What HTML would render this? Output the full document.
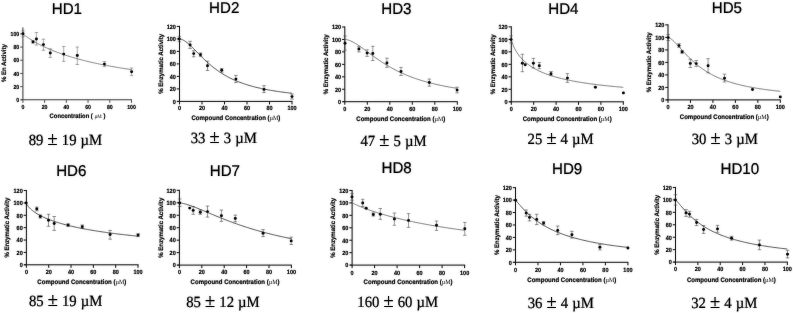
<!DOCTYPE html>
<html lang="en"><head><meta charset="utf-8"><title>HD1-HD10 dose response</title>
<style>
html,body{margin:0;padding:0;background:#fff;}
body{width:793px;height:313px;overflow:hidden;}
svg{display:block;}
.t{font-family:"Liberation Sans",Arial,sans-serif;fill:#0a0a0a;stroke:#0a0a0a;stroke-width:0.2;}
.b{font-family:"Liberation Sans",Arial,sans-serif;font-weight:bold;fill:#111;stroke:#111;stroke-width:0.16;}
.s{font-family:"Liberation Serif","Times New Roman",serif;fill:#0a0a0a;stroke:#0a0a0a;stroke-width:0.22;}
.u{font-family:"Liberation Serif","Times New Roman",serif;fill:#1a1a1a;stroke:none;font-weight:normal;}
</style></head><body>
<svg width="793" height="313" viewBox="0 0 793 313" text-rendering="geometricPrecision">
<rect width="793" height="313" fill="#fff"/>
<defs><filter id="bl" x="-2%" y="-2%" width="104%" height="104%" color-interpolation-filters="sRGB"><feGaussianBlur in="SourceGraphic" stdDeviation="0.8" result="b"/><feComponentTransfer in="b" result="b2"><feFuncA type="linear" slope="0.3"/></feComponentTransfer><feComponentTransfer in="SourceGraphic" result="s2"><feFuncA type="linear" slope="1"/></feComponentTransfer><feMerge><feMergeNode in="b2"/><feMergeNode in="s2"/></feMerge></filter></defs>
<g filter="url(#bl)">
<g>
<text class="t" transform="translate(66.85 13.8) scale(0.97 1)" font-size="15.6" text-anchor="middle">HD1</text>
<path d="M22.9 27.5V100.3M21.1 99.8H132" stroke="#505050" stroke-width="1.05" fill="none"/>
<path d="M20.2 99.8H22.9M20.2 86.62H22.9M20.2 73.44H22.9M20.2 60.26H22.9M20.2 47.08H22.9M20.2 33.9H22.9M22.9 99.8V102.8M44.62 99.8V102.8M66.34 99.8V102.8M88.06 99.8V102.8M109.78 99.8V102.8M131.5 99.8V102.8" stroke="#505050" stroke-width="0.9" fill="none"/>
<text class="b" transform="translate(19.2 101.98) scale(0.9 1)" font-size="5.8" text-anchor="end">0</text>
<text class="b" transform="translate(19.2 88.8) scale(0.9 1)" font-size="5.8" text-anchor="end">20</text>
<text class="b" transform="translate(19.2 75.62) scale(0.9 1)" font-size="5.8" text-anchor="end">40</text>
<text class="b" transform="translate(19.2 62.44) scale(0.9 1)" font-size="5.8" text-anchor="end">60</text>
<text class="b" transform="translate(19.2 49.26) scale(0.9 1)" font-size="5.8" text-anchor="end">80</text>
<text class="b" transform="translate(19.2 36.08) scale(0.9 1)" font-size="5.8" text-anchor="end">100</text>
<text class="b" transform="translate(22.9 108.68) scale(0.9 1)" font-size="5.8" text-anchor="middle">0</text>
<text class="b" transform="translate(44.62 108.68) scale(0.9 1)" font-size="5.8" text-anchor="middle">20</text>
<text class="b" transform="translate(66.34 108.68) scale(0.9 1)" font-size="5.8" text-anchor="middle">40</text>
<text class="b" transform="translate(88.06 108.68) scale(0.9 1)" font-size="5.8" text-anchor="middle">60</text>
<text class="b" transform="translate(109.78 108.68) scale(0.9 1)" font-size="5.8" text-anchor="middle">80</text>
<text class="b" transform="translate(131.5 108.68) scale(0.9 1)" font-size="5.8" text-anchor="middle">100</text>
<text class="b" transform="translate(77.5 118.45) scale(0.915 1)" font-size="6.4" text-anchor="middle" xml:space="preserve">Concentration ( <tspan class="u" fill="#555" font-size="5.5">µM</tspan> )</text>
<text class="b" transform="translate(5.88 63.1) rotate(-90) scale(0.94 1)" font-size="6.4" text-anchor="middle">% En Activity</text>
<path d="M22.9 33.97 L23.12 34.15 L23.33 34.33 L23.55 34.5 L23.77 34.67 L23.99 34.84 L24.2 35 L24.42 35.17 L24.64 35.33 L24.85 35.49 L25.07 35.65 L25.29 35.81 L25.51 35.97 L25.72 36.12 L25.94 36.28 L26.16 36.44 L26.38 36.59 L26.59 36.74 L26.81 36.89 L27.03 37.04 L27.24 37.19 L27.46 37.34 L27.68 37.49 L27.9 37.64 L28.11 37.78 L28.33 37.93 L28.87 38.29 L29.96 39 L31.06 39.69 L32.15 40.36 L33.24 41.02 L34.33 41.65 L35.42 42.28 L36.52 42.89 L37.61 43.48 L38.7 44.06 L39.79 44.63 L40.88 45.19 L41.97 45.73 L43.07 46.27 L44.16 46.79 L45.25 47.3 L46.34 47.8 L47.43 48.29 L48.52 48.77 L49.62 49.24 L50.71 49.7 L51.8 50.16 L52.89 50.6 L53.98 51.04 L55.08 51.46 L56.17 51.89 L57.26 52.3 L58.35 52.7 L59.44 53.1 L60.53 53.49 L61.63 53.88 L62.72 54.26 L63.81 54.63 L64.9 54.99 L65.99 55.35 L67.09 55.7 L68.18 56.05 L69.27 56.39 L70.36 56.73 L71.45 57.06 L72.54 57.38 L73.64 57.71 L74.73 58.02 L75.82 58.33 L76.91 58.64 L78 58.94 L79.09 59.24 L80.19 59.53 L81.28 59.82 L82.37 60.1 L83.46 60.38 L84.55 60.65 L85.65 60.93 L86.74 61.19 L87.83 61.46 L88.92 61.72 L90.01 61.97 L91.1 62.23 L92.2 62.48 L93.29 62.72 L94.38 62.97 L95.47 63.21 L96.56 63.44 L97.65 63.67 L98.75 63.9 L99.84 64.13 L100.93 64.36 L102.02 64.58 L103.11 64.8 L104.21 65.01 L105.3 65.23 L106.39 65.44 L107.48 65.64 L108.57 65.85 L109.66 66.05 L110.76 66.25 L111.85 66.45 L112.94 66.64 L114.03 66.84 L115.12 67.03 L116.22 67.22 L117.31 67.4 L118.4 67.59 L119.49 67.77 L120.58 67.95 L121.67 68.13 L122.77 68.3 L123.86 68.48 L124.95 68.65 L126.04 68.82 L127.13 68.99 L128.22 69.15 L129.32 69.32 L130.41 69.48 L131.5 69.64" stroke="#444" stroke-width="0.55" fill="none" stroke-linejoin="round"/>
<path d="M23 30.8V36.8M21.25 30.8H24.75M21.25 36.8H24.75M33 40.6V43.2M31.25 40.6H34.75M31.25 43.2H34.75M36.4 32.5V45.1M34.65 32.5H38.15M34.65 45.1H38.15M43.4 39.2V50.3M41.65 39.2H45.15M41.65 50.3H45.15M50.3 48.8V57.4M48.55 48.8H52.05M48.55 57.4H52.05M63.7 46.5V61.4M61.95 46.5H65.45M61.95 61.4H65.45M77.3 47V64.5M75.55 47H79.05M75.55 64.5H79.05M104.4 61.6V66.6M102.65 61.6H106.15M102.65 66.6H106.15M131.6 68V75.6M129.85 68H133.35M129.85 75.6H133.35" stroke="#707070" stroke-width="0.5" fill="none"/>
<circle cx="23" cy="33.8" r="1.45" fill="#111"/>
<circle cx="33" cy="41.9" r="1.45" fill="#111"/>
<circle cx="36.4" cy="39" r="1.45" fill="#111"/>
<circle cx="43.4" cy="44.6" r="1.45" fill="#111"/>
<circle cx="50.3" cy="53" r="1.45" fill="#111"/>
<circle cx="63.7" cy="54.1" r="1.45" fill="#111"/>
<circle cx="77.3" cy="55.5" r="1.45" fill="#111"/>
<circle cx="104.4" cy="64.1" r="1.45" fill="#111"/>
<circle cx="131.6" cy="71.8" r="1.45" fill="#111"/>
<text class="s" transform="translate(65.45 145.35) scale(0.95 1)" font-size="15.5" word-spacing="0.45" text-anchor="middle">89 <tspan font-size="19.38">±</tspan> 19 µM</text>
</g>
<g>
<text class="t" transform="translate(224.25 13) scale(0.97 1)" font-size="15.6" text-anchor="middle">HD2</text>
<path d="M179.5 25.9V101.9M177.6 101.4H292.4" stroke="#222" stroke-width="1.0" fill="none"/>
<path d="M176.8 101.4H179.5M176.8 88.9H179.5M176.8 76.4H179.5M176.8 63.9H179.5M176.8 51.4H179.5M176.8 38.9H179.5M176.8 26.4H179.5M179.5 101.4V104.4M202 101.4V104.4M224.5 101.4V104.4M247 101.4V104.4M269.5 101.4V104.4M292 101.4V104.4" stroke="#222" stroke-width="1.0" fill="none"/>
<text class="b" transform="translate(175.8 103.68) scale(0.9 1)" font-size="6.1" text-anchor="end">0</text>
<text class="b" transform="translate(175.8 91.18) scale(0.9 1)" font-size="6.1" text-anchor="end">20</text>
<text class="b" transform="translate(175.8 78.68) scale(0.9 1)" font-size="6.1" text-anchor="end">40</text>
<text class="b" transform="translate(175.8 66.18) scale(0.9 1)" font-size="6.1" text-anchor="end">60</text>
<text class="b" transform="translate(175.8 53.68) scale(0.9 1)" font-size="6.1" text-anchor="end">80</text>
<text class="b" transform="translate(175.8 41.18) scale(0.9 1)" font-size="6.1" text-anchor="end">100</text>
<text class="b" transform="translate(175.8 28.68) scale(0.9 1)" font-size="6.1" text-anchor="end">120</text>
<text class="b" transform="translate(179.5 110.48) scale(0.9 1)" font-size="6.1" text-anchor="middle">0</text>
<text class="b" transform="translate(202 110.48) scale(0.9 1)" font-size="6.1" text-anchor="middle">20</text>
<text class="b" transform="translate(224.5 110.48) scale(0.9 1)" font-size="6.1" text-anchor="middle">40</text>
<text class="b" transform="translate(247 110.48) scale(0.9 1)" font-size="6.1" text-anchor="middle">60</text>
<text class="b" transform="translate(269.5 110.48) scale(0.9 1)" font-size="6.1" text-anchor="middle">80</text>
<text class="b" transform="translate(292 110.48) scale(0.9 1)" font-size="6.1" text-anchor="middle">100</text>
<text class="b" transform="translate(235.9 120.35) scale(0.915 1)" font-size="6.6" text-anchor="middle" xml:space="preserve">Compound Concentration (<tspan class="u" fill="#1a1a1a" font-size="6.6">µM</tspan>)</text>
<text class="b" transform="translate(162.68 63.9) rotate(-90) scale(0.94 1)" font-size="6.4" text-anchor="middle">% Enzymatic Activity</text>
<path d="M179.5 38.96 L179.72 38.97 L179.95 38.99 L180.18 39.02 L180.4 39.06 L180.62 39.11 L180.85 39.16 L181.07 39.22 L181.3 39.28 L181.53 39.36 L181.75 39.44 L181.97 39.52 L182.2 39.61 L182.43 39.7 L182.65 39.8 L182.88 39.91 L183.1 40.02 L183.32 40.13 L183.55 40.25 L183.78 40.38 L184 40.51 L184.22 40.64 L184.45 40.77 L184.68 40.91 L184.9 41.06 L185.12 41.21 L185.69 41.59 L186.82 42.43 L187.95 43.34 L189.08 44.31 L190.21 45.34 L191.34 46.4 L192.47 47.5 L193.6 48.63 L194.74 49.77 L195.87 50.92 L197 52.08 L198.13 53.24 L199.26 54.39 L200.39 55.54 L201.52 56.67 L202.65 57.79 L203.78 58.9 L204.91 59.98 L206.05 61.04 L207.18 62.09 L208.31 63.1 L209.44 64.1 L210.57 65.07 L211.7 66.01 L212.83 66.93 L213.96 67.83 L215.09 68.7 L216.22 69.54 L217.36 70.36 L218.49 71.16 L219.62 71.93 L220.75 72.67 L221.88 73.4 L223.01 74.1 L224.14 74.78 L225.27 75.44 L226.4 76.08 L227.53 76.7 L228.66 77.3 L229.8 77.88 L230.93 78.44 L232.06 78.98 L233.19 79.51 L234.32 80.02 L235.45 80.52 L236.58 80.99 L237.71 81.46 L238.84 81.91 L239.97 82.34 L241.11 82.76 L242.24 83.17 L243.37 83.57 L244.5 83.96 L245.63 84.33 L246.76 84.69 L247.89 85.04 L249.02 85.38 L250.15 85.71 L251.28 86.03 L252.42 86.34 L253.55 86.65 L254.68 86.94 L255.81 87.23 L256.94 87.5 L258.07 87.77 L259.2 88.03 L260.33 88.29 L261.46 88.54 L262.59 88.78 L263.73 89.01 L264.86 89.24 L265.99 89.46 L267.12 89.68 L268.25 89.89 L269.38 90.09 L270.51 90.29 L271.64 90.48 L272.77 90.67 L273.9 90.86 L275.04 91.04 L276.17 91.21 L277.3 91.38 L278.43 91.55 L279.56 91.71 L280.69 91.87 L281.82 92.02 L282.95 92.17 L284.08 92.32 L285.21 92.47 L286.35 92.61 L287.48 92.74 L288.61 92.88 L289.74 93.01 L290.87 93.13 L292 93.26" stroke="#222" stroke-width="0.66" fill="none" stroke-linejoin="round"/>
<path d="M179.3 36.3V41.7M177.55 36.3H181.05M177.55 41.7H181.05M190.1 41.3V48.4M188.35 41.3H191.85M188.35 48.4H191.85M193.7 50.7V56.8M191.95 50.7H195.45M191.95 56.8H195.45M200.5 53V56.4M198.75 53H202.25M198.75 56.4H202.25M207.5 61.2V70.5M205.75 61.2H209.25M205.75 70.5H209.25M221.7 68.5V72.2M219.95 68.5H223.45M219.95 72.2H223.45M235.9 75.4V82.6M234.15 75.4H237.65M234.15 82.6H237.65M264 85.7V92.6M262.25 85.7H265.75M262.25 92.6H265.75M292 94.1V99.1M290.25 94.1H293.75M290.25 99.1H293.75" stroke="#444" stroke-width="0.5" fill="none"/>
<circle cx="179.3" cy="39" r="1.45" fill="#111"/>
<circle cx="190.1" cy="44.9" r="1.45" fill="#111"/>
<circle cx="193.7" cy="53.6" r="1.45" fill="#111"/>
<circle cx="200.5" cy="54.7" r="1.45" fill="#111"/>
<circle cx="207.5" cy="65.7" r="1.45" fill="#111"/>
<circle cx="221.7" cy="70.3" r="1.45" fill="#111"/>
<circle cx="235.9" cy="79.1" r="1.45" fill="#111"/>
<circle cx="264" cy="89.4" r="1.45" fill="#111"/>
<circle cx="292" cy="96.6" r="1.45" fill="#111"/>
<text class="s" transform="translate(223.8 142.85) scale(0.95 1)" font-size="15.5" word-spacing="0.45" text-anchor="middle">33 <tspan font-size="19.38">±</tspan> 3 µM</text>
</g>
<g>
<text class="t" transform="translate(396.35 13.9) scale(0.97 1)" font-size="15.6" text-anchor="middle">HD3</text>
<path d="M344.8 26.5V102.2M343.1 101.7H457.7" stroke="#222" stroke-width="1.0" fill="none"/>
<path d="M342.1 101.7H344.8M342.1 89.25H344.8M342.1 76.8H344.8M342.1 64.35H344.8M342.1 51.9H344.8M342.1 39.45H344.8M342.1 27H344.8M344.8 101.7V104.7M367.3 101.7V104.7M389.8 101.7V104.7M412.3 101.7V104.7M434.8 101.7V104.7M457.3 101.7V104.7" stroke="#222" stroke-width="1.0" fill="none"/>
<text class="b" transform="translate(341.1 103.98) scale(0.9 1)" font-size="6.1" text-anchor="end">0</text>
<text class="b" transform="translate(341.1 91.53) scale(0.9 1)" font-size="6.1" text-anchor="end">20</text>
<text class="b" transform="translate(341.1 79.08) scale(0.9 1)" font-size="6.1" text-anchor="end">40</text>
<text class="b" transform="translate(341.1 66.63) scale(0.9 1)" font-size="6.1" text-anchor="end">60</text>
<text class="b" transform="translate(341.1 54.18) scale(0.9 1)" font-size="6.1" text-anchor="end">80</text>
<text class="b" transform="translate(341.1 41.73) scale(0.9 1)" font-size="6.1" text-anchor="end">100</text>
<text class="b" transform="translate(341.1 29.28) scale(0.9 1)" font-size="6.1" text-anchor="end">120</text>
<text class="b" transform="translate(344.8 111.28) scale(0.9 1)" font-size="6.1" text-anchor="middle">0</text>
<text class="b" transform="translate(367.3 111.28) scale(0.9 1)" font-size="6.1" text-anchor="middle">20</text>
<text class="b" transform="translate(389.8 111.28) scale(0.9 1)" font-size="6.1" text-anchor="middle">40</text>
<text class="b" transform="translate(412.3 111.28) scale(0.9 1)" font-size="6.1" text-anchor="middle">60</text>
<text class="b" transform="translate(434.8 111.28) scale(0.9 1)" font-size="6.1" text-anchor="middle">80</text>
<text class="b" transform="translate(457.3 111.28) scale(0.9 1)" font-size="6.1" text-anchor="middle">100</text>
<text class="b" transform="translate(400.8 120.95) scale(0.915 1)" font-size="6.6" text-anchor="middle" xml:space="preserve">Compound Concentration (<tspan class="u" fill="#1a1a1a" font-size="6.6">µM</tspan>)</text>
<text class="b" transform="translate(327.77 64.35) rotate(-90) scale(0.94 1)" font-size="6.4" text-anchor="middle">% Enzymatic Activity</text>
<path d="M344.8 39.39 L345.03 39.39 L345.25 39.41 L345.48 39.43 L345.7 39.46 L345.93 39.49 L346.15 39.52 L346.38 39.56 L346.6 39.61 L346.82 39.66 L347.05 39.71 L347.28 39.76 L347.5 39.82 L347.73 39.89 L347.95 39.95 L348.18 40.02 L348.4 40.09 L348.62 40.16 L348.85 40.24 L349.07 40.32 L349.3 40.4 L349.53 40.49 L349.75 40.58 L349.98 40.67 L350.2 40.76 L350.43 40.85 L350.99 41.1 L352.12 41.64 L353.25 42.23 L354.38 42.86 L355.51 43.52 L356.64 44.22 L357.77 44.95 L358.9 45.7 L360.04 46.48 L361.17 47.27 L362.3 48.07 L363.43 48.89 L364.56 49.71 L365.69 50.54 L366.82 51.38 L367.95 52.21 L369.08 53.05 L370.21 53.88 L371.35 54.71 L372.48 55.53 L373.61 56.35 L374.74 57.16 L375.87 57.96 L377 58.75 L378.13 59.53 L379.26 60.3 L380.39 61.06 L381.52 61.81 L382.66 62.55 L383.79 63.27 L384.92 63.98 L386.05 64.68 L387.18 65.36 L388.31 66.04 L389.44 66.7 L390.57 67.34 L391.7 67.97 L392.83 68.59 L393.96 69.2 L395.1 69.79 L396.23 70.38 L397.36 70.94 L398.49 71.5 L399.62 72.04 L400.75 72.58 L401.88 73.1 L403.01 73.61 L404.14 74.1 L405.27 74.59 L406.41 75.06 L407.54 75.53 L408.67 75.98 L409.8 76.43 L410.93 76.86 L412.06 77.28 L413.19 77.7 L414.32 78.1 L415.45 78.5 L416.58 78.89 L417.72 79.26 L418.85 79.63 L419.98 79.99 L421.11 80.35 L422.24 80.69 L423.37 81.03 L424.5 81.36 L425.63 81.68 L426.76 82 L427.89 82.31 L429.03 82.61 L430.16 82.9 L431.29 83.19 L432.42 83.47 L433.55 83.75 L434.68 84.02 L435.81 84.29 L436.94 84.54 L438.07 84.8 L439.2 85.05 L440.34 85.29 L441.47 85.53 L442.6 85.76 L443.73 85.99 L444.86 86.21 L445.99 86.43 L447.12 86.64 L448.25 86.85 L449.38 87.06 L450.51 87.26 L451.65 87.46 L452.78 87.65 L453.91 87.84 L455.04 88.02 L456.17 88.21 L457.3 88.38" stroke="#383838" stroke-width="0.55" fill="none" stroke-linejoin="round"/>
<path d="M345 35.9V50.2M343.25 35.9H346.75M343.25 50.2H346.75M358.9 46.6V51.9M357.15 46.6H360.65M357.15 51.9H360.65M367.1 49.8V56.4M365.35 49.8H368.85M365.35 56.4H368.85M372.8 46.3V60.5M371.05 46.3H374.55M371.05 60.5H374.55M386.9 58.2V67.4M385.15 58.2H388.65M385.15 67.4H388.65M401 67.4V75.5M399.25 67.4H402.75M399.25 75.5H402.75M429.3 79V86.2M427.55 79H431.05M427.55 86.2H431.05M457.1 87.2V92.9M455.35 87.2H458.85M455.35 92.9H458.85" stroke="#505050" stroke-width="0.5" fill="none"/>
<circle cx="345" cy="43.3" r="1.45" fill="#111"/>
<circle cx="358.9" cy="49" r="1.45" fill="#111"/>
<circle cx="367.1" cy="53.1" r="1.45" fill="#111"/>
<circle cx="372.8" cy="53.5" r="1.45" fill="#111"/>
<circle cx="386.9" cy="63" r="1.45" fill="#111"/>
<circle cx="401" cy="71.5" r="1.45" fill="#111"/>
<circle cx="429.3" cy="82.5" r="1.45" fill="#111"/>
<circle cx="457.1" cy="90.1" r="1.45" fill="#111"/>
<text class="s" transform="translate(393.45 145.65) scale(0.95 1)" font-size="15.5" word-spacing="0.45" text-anchor="middle">47 <tspan font-size="19.38">±</tspan> 5 µM</text>
</g>
<g>
<text class="t" transform="translate(563.4 13.9) scale(0.97 1)" font-size="15.6" text-anchor="middle">HD4</text>
<path d="M511.3 26.36V102.3M509.5 101.8H623.8" stroke="#222" stroke-width="1.0" fill="none"/>
<path d="M508.6 101.8H511.3M508.6 89.31H511.3M508.6 76.82H511.3M508.6 64.33H511.3M508.6 51.84H511.3M508.6 39.35H511.3M508.6 26.86H511.3M511.3 101.8V104.8M533.7 101.8V104.8M556.1 101.8V104.8M578.5 101.8V104.8M600.9 101.8V104.8M623.3 101.8V104.8" stroke="#222" stroke-width="1.0" fill="none"/>
<text class="b" transform="translate(507.6 104.08) scale(0.9 1)" font-size="6.1" text-anchor="end">0</text>
<text class="b" transform="translate(507.6 91.59) scale(0.9 1)" font-size="6.1" text-anchor="end">20</text>
<text class="b" transform="translate(507.6 79.1) scale(0.9 1)" font-size="6.1" text-anchor="end">40</text>
<text class="b" transform="translate(507.6 66.61) scale(0.9 1)" font-size="6.1" text-anchor="end">60</text>
<text class="b" transform="translate(507.6 54.12) scale(0.9 1)" font-size="6.1" text-anchor="end">80</text>
<text class="b" transform="translate(507.6 41.63) scale(0.9 1)" font-size="6.1" text-anchor="end">100</text>
<text class="b" transform="translate(507.6 29.14) scale(0.9 1)" font-size="6.1" text-anchor="end">120</text>
<text class="b" transform="translate(511.3 111.28) scale(0.9 1)" font-size="6.1" text-anchor="middle">0</text>
<text class="b" transform="translate(533.7 111.28) scale(0.9 1)" font-size="6.1" text-anchor="middle">20</text>
<text class="b" transform="translate(556.1 111.28) scale(0.9 1)" font-size="6.1" text-anchor="middle">40</text>
<text class="b" transform="translate(578.5 111.28) scale(0.9 1)" font-size="6.1" text-anchor="middle">60</text>
<text class="b" transform="translate(600.9 111.28) scale(0.9 1)" font-size="6.1" text-anchor="middle">80</text>
<text class="b" transform="translate(623.3 111.28) scale(0.9 1)" font-size="6.1" text-anchor="middle">100</text>
<text class="b" transform="translate(567.2 120.95) scale(0.915 1)" font-size="6.6" text-anchor="middle" xml:space="preserve">Compound Concentration (<tspan class="u" fill="#1a1a1a" font-size="6.6">µM</tspan>)</text>
<text class="b" transform="translate(494.57 64.33) rotate(-90) scale(0.94 1)" font-size="6.4" text-anchor="middle">% Enzymatic Activity</text>
<path d="M511.3 39.41 L511.52 40.49 L511.75 41.32 L511.97 42.07 L512.2 42.75 L512.42 43.4 L512.64 44.01 L512.87 44.6 L513.09 45.16 L513.32 45.7 L513.54 46.22 L513.76 46.72 L513.99 47.21 L514.21 47.68 L514.44 48.14 L514.66 48.58 L514.88 49.02 L515.11 49.44 L515.33 49.85 L515.56 50.25 L515.78 50.65 L516 51.03 L516.23 51.41 L516.45 51.77 L516.68 52.13 L516.9 52.48 L517.46 53.33 L518.59 54.92 L519.71 56.38 L520.84 57.71 L521.96 58.95 L523.09 60.11 L524.22 61.18 L525.34 62.19 L526.47 63.14 L527.59 64.03 L528.72 64.88 L529.85 65.67 L530.97 66.43 L532.1 67.15 L533.22 67.84 L534.35 68.49 L535.48 69.12 L536.6 69.72 L537.73 70.29 L538.85 70.84 L539.98 71.36 L541.11 71.87 L542.23 72.35 L543.36 72.82 L544.48 73.27 L545.61 73.71 L546.73 74.13 L547.86 74.53 L548.99 74.92 L550.11 75.3 L551.24 75.67 L552.36 76.02 L553.49 76.37 L554.62 76.7 L555.74 77.03 L556.87 77.34 L557.99 77.65 L559.12 77.94 L560.25 78.23 L561.37 78.51 L562.5 78.78 L563.62 79.05 L564.75 79.31 L565.88 79.56 L567 79.81 L568.13 80.05 L569.25 80.28 L570.38 80.51 L571.51 80.73 L572.63 80.95 L573.76 81.16 L574.88 81.37 L576.01 81.57 L577.14 81.77 L578.26 81.96 L579.39 82.15 L580.51 82.34 L581.64 82.52 L582.77 82.7 L583.89 82.87 L585.02 83.04 L586.14 83.21 L587.27 83.37 L588.4 83.53 L589.52 83.69 L590.65 83.84 L591.77 84 L592.9 84.14 L594.03 84.29 L595.15 84.43 L596.28 84.57 L597.4 84.71 L598.53 84.85 L599.65 84.98 L600.78 85.11 L601.91 85.24 L603.03 85.37 L604.16 85.49 L605.28 85.61 L606.41 85.73 L607.54 85.85 L608.66 85.97 L609.79 86.08 L610.91 86.19 L612.04 86.3 L613.17 86.41 L614.29 86.52 L615.42 86.63 L616.54 86.73 L617.67 86.83 L618.8 86.93 L619.92 87.03 L621.05 87.13 L622.17 87.23 L623.3 87.32" stroke="#383838" stroke-width="0.55" fill="none" stroke-linejoin="round"/>
<path d="M511.1 35.9V43M509.35 35.9H512.85M509.35 43H512.85M522.4 54.3V71.7M520.65 54.3H524.15M520.65 71.7H524.15M533.4 58.4V68M531.65 58.4H535.15M531.65 68H535.15M539.3 62.5V68.7M537.55 62.5H541.05M537.55 68.7H541.05M551 71.5V75.6M549.25 71.5H552.75M549.25 75.6H552.75M567.4 73.6V82.4M565.65 73.6H569.15M565.65 82.4H569.15" stroke="#505050" stroke-width="0.5" fill="none"/>
<circle cx="511.1" cy="39.6" r="1.45" fill="#111"/>
<circle cx="522.4" cy="63.3" r="1.45" fill="#111"/>
<circle cx="525.2" cy="64.8" r="1.45" fill="#111"/>
<circle cx="533.4" cy="63.3" r="1.45" fill="#111"/>
<circle cx="539.3" cy="65.8" r="1.45" fill="#111"/>
<circle cx="551" cy="73.8" r="1.45" fill="#111"/>
<circle cx="567.4" cy="78.1" r="1.45" fill="#111"/>
<circle cx="595.4" cy="87.2" r="1.45" fill="#111"/>
<circle cx="623.4" cy="92.9" r="1.45" fill="#111"/>
<text class="s" transform="translate(560.6 143.85) scale(0.95 1)" font-size="15.5" word-spacing="0.45" text-anchor="middle">25 <tspan font-size="19.38">±</tspan> 4 µM</text>
</g>
<g>
<text class="t" transform="translate(726.9 12.7) scale(0.97 1)" font-size="15.6" text-anchor="middle">HD5</text>
<path d="M668 24.4V100.4M666.3 99.9H780.7" stroke="#222" stroke-width="1.0" fill="none"/>
<path d="M665.3 99.9H668M665.3 87.4H668M665.3 74.9H668M665.3 62.4H668M665.3 49.9H668M665.3 37.4H668M665.3 24.9H668M668 99.9V102.9M690.46 99.9V102.9M712.92 99.9V102.9M735.38 99.9V102.9M757.84 99.9V102.9M780.3 99.9V102.9" stroke="#222" stroke-width="1.0" fill="none"/>
<text class="b" transform="translate(664.3 102.18) scale(0.9 1)" font-size="6.1" text-anchor="end">0</text>
<text class="b" transform="translate(664.3 89.68) scale(0.9 1)" font-size="6.1" text-anchor="end">20</text>
<text class="b" transform="translate(664.3 77.18) scale(0.9 1)" font-size="6.1" text-anchor="end">40</text>
<text class="b" transform="translate(664.3 64.68) scale(0.9 1)" font-size="6.1" text-anchor="end">60</text>
<text class="b" transform="translate(664.3 52.18) scale(0.9 1)" font-size="6.1" text-anchor="end">80</text>
<text class="b" transform="translate(664.3 39.68) scale(0.9 1)" font-size="6.1" text-anchor="end">100</text>
<text class="b" transform="translate(664.3 27.18) scale(0.9 1)" font-size="6.1" text-anchor="end">120</text>
<text class="b" transform="translate(668 109.28) scale(0.9 1)" font-size="6.1" text-anchor="middle">0</text>
<text class="b" transform="translate(690.46 109.28) scale(0.9 1)" font-size="6.1" text-anchor="middle">20</text>
<text class="b" transform="translate(712.92 109.28) scale(0.9 1)" font-size="6.1" text-anchor="middle">40</text>
<text class="b" transform="translate(735.38 109.28) scale(0.9 1)" font-size="6.1" text-anchor="middle">60</text>
<text class="b" transform="translate(757.84 109.28) scale(0.9 1)" font-size="6.1" text-anchor="middle">80</text>
<text class="b" transform="translate(780.3 109.28) scale(0.9 1)" font-size="6.1" text-anchor="middle">100</text>
<text class="b" transform="translate(724.25 119.35) scale(0.915 1)" font-size="6.6" text-anchor="middle" xml:space="preserve">Compound Concentration (<tspan class="u" fill="#1a1a1a" font-size="6.6">µM</tspan>)</text>
<text class="b" transform="translate(651.27 62.4) rotate(-90) scale(0.94 1)" font-size="6.4" text-anchor="middle">% Enzymatic Activity</text>
<path d="M668 37.46 L668.22 37.49 L668.45 37.54 L668.67 37.61 L668.9 37.69 L669.12 37.78 L669.35 37.89 L669.57 38 L669.8 38.12 L670.02 38.25 L670.25 38.39 L670.47 38.53 L670.7 38.68 L670.92 38.84 L671.14 39 L671.37 39.17 L671.59 39.35 L671.82 39.52 L672.04 39.71 L672.27 39.89 L672.49 40.09 L672.72 40.28 L672.94 40.48 L673.17 40.68 L673.39 40.89 L673.62 41.1 L674.18 41.64 L675.31 42.76 L676.43 43.94 L677.56 45.16 L678.69 46.39 L679.82 47.64 L680.95 48.9 L682.08 50.15 L683.21 51.4 L684.34 52.63 L685.47 53.84 L686.6 55.03 L687.72 56.2 L688.85 57.35 L689.98 58.46 L691.11 59.55 L692.24 60.61 L693.37 61.64 L694.5 62.64 L695.63 63.62 L696.76 64.56 L697.88 65.47 L699.01 66.36 L700.14 67.21 L701.27 68.04 L702.4 68.85 L703.53 69.62 L704.66 70.37 L705.79 71.1 L706.92 71.8 L708.05 72.48 L709.17 73.14 L710.3 73.78 L711.43 74.39 L712.56 74.98 L713.69 75.56 L714.82 76.12 L715.95 76.65 L717.08 77.18 L718.21 77.68 L719.34 78.17 L720.46 78.64 L721.59 79.1 L722.72 79.54 L723.85 79.97 L724.98 80.39 L726.11 80.79 L727.24 81.18 L728.37 81.56 L729.5 81.93 L730.63 82.29 L731.75 82.63 L732.88 82.97 L734.01 83.29 L735.14 83.61 L736.27 83.92 L737.4 84.22 L738.53 84.51 L739.66 84.79 L740.79 85.06 L741.91 85.33 L743.04 85.59 L744.17 85.84 L745.3 86.09 L746.43 86.33 L747.56 86.56 L748.69 86.79 L749.82 87.01 L750.95 87.22 L752.08 87.43 L753.2 87.63 L754.33 87.83 L755.46 88.03 L756.59 88.22 L757.72 88.4 L758.85 88.58 L759.98 88.76 L761.11 88.93 L762.24 89.09 L763.37 89.26 L764.49 89.42 L765.62 89.57 L766.75 89.72 L767.88 89.87 L769.01 90.02 L770.14 90.16 L771.27 90.3 L772.4 90.43 L773.53 90.56 L774.66 90.69 L775.78 90.82 L776.91 90.94 L778.04 91.07 L779.17 91.18 L780.3 91.3" stroke="#383838" stroke-width="0.55" fill="none" stroke-linejoin="round"/>
<path d="M668.2 34.5V40.5M666.45 34.5H669.95M666.45 40.5H669.95M679 43.7V47.4M677.25 43.7H680.75M677.25 47.4H680.75M682.1 50.5V53.3M680.35 50.5H683.85M680.35 53.3H683.85M690.3 59.3V67.5M688.55 59.3H692.05M688.55 67.5H692.05M696.2 60.5V66.4M694.45 60.5H697.95M694.45 66.4H697.95M708.1 58.7V72.8M706.35 58.7H709.85M706.35 72.8H709.85M724.5 74.2V82M722.75 74.2H726.25M722.75 82H726.25" stroke="#505050" stroke-width="0.5" fill="none"/>
<circle cx="668.2" cy="37.6" r="1.45" fill="#111"/>
<circle cx="679" cy="45.6" r="1.45" fill="#111"/>
<circle cx="682.1" cy="51.9" r="1.45" fill="#111"/>
<circle cx="690.3" cy="63.4" r="1.45" fill="#111"/>
<circle cx="696.2" cy="63.6" r="1.45" fill="#111"/>
<circle cx="708.1" cy="65.8" r="1.45" fill="#111"/>
<circle cx="724.5" cy="78.3" r="1.45" fill="#111"/>
<circle cx="752.5" cy="89.5" r="1.45" fill="#111"/>
<circle cx="780.3" cy="96.9" r="1.45" fill="#111"/>
<text class="s" transform="translate(724.75 144.05) scale(0.95 1)" font-size="15.5" word-spacing="0.45" text-anchor="middle">30 <tspan font-size="19.38">±</tspan> 3 µM</text>
</g>
<g>
<text class="t" transform="translate(71.3 175.8) scale(0.97 1)" font-size="15.6" text-anchor="middle">HD6</text>
<path d="M26.4 190.02V265.3M24.3 264.8H138.5" stroke="#222" stroke-width="1.0" fill="none"/>
<path d="M23.7 264.8H26.4M23.7 252.42H26.4M23.7 240.04H26.4M23.7 227.66H26.4M23.7 215.28H26.4M23.7 202.9H26.4M23.7 190.52H26.4M26.4 264.8V267.8M48.72 264.8V267.8M71.04 264.8V267.8M93.36 264.8V267.8M115.68 264.8V267.8M138 264.8V267.8" stroke="#222" stroke-width="1.0" fill="none"/>
<text class="b" transform="translate(22.7 267.08) scale(0.9 1)" font-size="6.1" text-anchor="end">0</text>
<text class="b" transform="translate(22.7 254.7) scale(0.9 1)" font-size="6.1" text-anchor="end">20</text>
<text class="b" transform="translate(22.7 242.32) scale(0.9 1)" font-size="6.1" text-anchor="end">40</text>
<text class="b" transform="translate(22.7 229.94) scale(0.9 1)" font-size="6.1" text-anchor="end">60</text>
<text class="b" transform="translate(22.7 217.56) scale(0.9 1)" font-size="6.1" text-anchor="end">80</text>
<text class="b" transform="translate(22.7 205.18) scale(0.9 1)" font-size="6.1" text-anchor="end">100</text>
<text class="b" transform="translate(22.7 192.8) scale(0.9 1)" font-size="6.1" text-anchor="end">120</text>
<text class="b" transform="translate(26.4 274.28) scale(0.9 1)" font-size="6.1" text-anchor="middle">0</text>
<text class="b" transform="translate(48.72 274.28) scale(0.9 1)" font-size="6.1" text-anchor="middle">20</text>
<text class="b" transform="translate(71.04 274.28) scale(0.9 1)" font-size="6.1" text-anchor="middle">40</text>
<text class="b" transform="translate(93.36 274.28) scale(0.9 1)" font-size="6.1" text-anchor="middle">60</text>
<text class="b" transform="translate(115.68 274.28) scale(0.9 1)" font-size="6.1" text-anchor="middle">80</text>
<text class="b" transform="translate(138 274.28) scale(0.9 1)" font-size="6.1" text-anchor="middle">100</text>
<text class="b" transform="translate(81.85 283.95) scale(0.915 1)" font-size="6.6" text-anchor="middle" xml:space="preserve">Compound Concentration (<tspan class="u" fill="#1a1a1a" font-size="6.6">µM</tspan>)</text>
<text class="b" transform="translate(9.28 227.66) rotate(-90) scale(0.94 1)" font-size="6.4" text-anchor="middle">% Enzymatic Activity</text>
<path d="M26.4 202.96 L26.62 203.74 L26.85 204.24 L27.07 204.67 L27.29 205.05 L27.52 205.4 L27.74 205.73 L27.96 206.04 L28.19 206.34 L28.41 206.62 L28.63 206.89 L28.86 207.16 L29.08 207.41 L29.3 207.66 L29.52 207.9 L29.75 208.13 L29.97 208.35 L30.19 208.57 L30.42 208.79 L30.64 209 L30.86 209.21 L31.09 209.41 L31.31 209.61 L31.53 209.8 L31.76 209.99 L31.98 210.18 L32.54 210.63 L33.66 211.49 L34.78 212.28 L35.9 213.03 L37.03 213.73 L38.15 214.39 L39.27 215.02 L40.39 215.62 L41.51 216.2 L42.64 216.74 L43.76 217.27 L44.88 217.78 L46 218.26 L47.12 218.73 L48.25 219.19 L49.37 219.63 L50.49 220.05 L51.61 220.46 L52.73 220.86 L53.85 221.25 L54.98 221.63 L56.1 221.99 L57.22 222.35 L58.34 222.7 L59.46 223.04 L60.59 223.37 L61.71 223.69 L62.83 224 L63.95 224.31 L65.07 224.61 L66.2 224.9 L67.32 225.19 L68.44 225.47 L69.56 225.74 L70.68 226.01 L71.81 226.28 L72.93 226.53 L74.05 226.79 L75.17 227.03 L76.29 227.28 L77.42 227.52 L78.54 227.75 L79.66 227.98 L80.78 228.21 L81.9 228.43 L83.03 228.65 L84.15 228.86 L85.27 229.07 L86.39 229.28 L87.51 229.48 L88.63 229.68 L89.76 229.88 L90.88 230.07 L92 230.26 L93.12 230.45 L94.24 230.64 L95.37 230.82 L96.49 231 L97.61 231.17 L98.73 231.35 L99.85 231.52 L100.98 231.69 L102.1 231.86 L103.22 232.02 L104.34 232.18 L105.46 232.34 L106.59 232.5 L107.71 232.66 L108.83 232.81 L109.95 232.96 L111.07 233.11 L112.2 233.26 L113.32 233.41 L114.44 233.55 L115.56 233.69 L116.68 233.83 L117.81 233.97 L118.93 234.11 L120.05 234.24 L121.17 234.38 L122.29 234.51 L123.41 234.64 L124.54 234.77 L125.66 234.9 L126.78 235.02 L127.9 235.15 L129.02 235.27 L130.15 235.39 L131.27 235.51 L132.39 235.63 L133.51 235.75 L134.63 235.86 L135.76 235.98 L136.88 236.09 L138 236.21" stroke="#222" stroke-width="0.66" fill="none" stroke-linejoin="round"/>
<path d="M36.8 207.1V210.8M35.05 207.1H38.55M35.05 210.8H38.55M40.3 214.9V218.1M38.55 214.9H42.05M38.55 218.1H42.05M48.5 214.3V226.3M46.75 214.3H50.25M46.75 226.3H50.25M54.2 216.5V230.4M52.45 216.5H55.95M52.45 230.4H55.95M68.1 223.8V226.5M66.35 223.8H69.85M66.35 226.5H69.85M82.3 225V228.5M80.55 225H84.05M80.55 228.5H84.05M110.1 230.4V239.2M108.35 230.4H111.85M108.35 239.2H111.85M138.1 233.7V236.6M136.35 233.7H139.85M136.35 236.6H139.85" stroke="#444" stroke-width="0.5" fill="none"/>
<circle cx="26.2" cy="203" r="1.45" fill="#111"/>
<circle cx="36.8" cy="208.9" r="1.45" fill="#111"/>
<circle cx="40.3" cy="216.5" r="1.45" fill="#111"/>
<circle cx="48.5" cy="220.2" r="1.45" fill="#111"/>
<circle cx="54.2" cy="223.5" r="1.45" fill="#111"/>
<circle cx="68.1" cy="225.1" r="1.45" fill="#111"/>
<circle cx="82.3" cy="226.7" r="1.45" fill="#111"/>
<circle cx="110.1" cy="234.5" r="1.45" fill="#111"/>
<circle cx="138.1" cy="235.1" r="1.45" fill="#111"/>
<text class="s" transform="translate(65.6 305.85) scale(0.95 1)" font-size="15.5" word-spacing="0.45" text-anchor="middle">85 <tspan font-size="19.38">±</tspan> 19 µM</text>
</g>
<g>
<text class="t" transform="translate(224.9 175.8) scale(0.97 1)" font-size="15.6" text-anchor="middle">HD7</text>
<path d="M179.4 189.84V265.6M177.6 265.1H291.8" stroke="#222" stroke-width="1.0" fill="none"/>
<path d="M176.7 265.1H179.4M176.7 252.64H179.4M176.7 240.18H179.4M176.7 227.72H179.4M176.7 215.26H179.4M176.7 202.8H179.4M176.7 190.34H179.4M179.4 265.1V268.1M201.8 265.1V268.1M224.2 265.1V268.1M246.6 265.1V268.1M269 265.1V268.1M291.4 265.1V268.1" stroke="#222" stroke-width="1.0" fill="none"/>
<text class="b" transform="translate(175.7 267.38) scale(0.9 1)" font-size="6.1" text-anchor="end">0</text>
<text class="b" transform="translate(175.7 254.92) scale(0.9 1)" font-size="6.1" text-anchor="end">20</text>
<text class="b" transform="translate(175.7 242.46) scale(0.9 1)" font-size="6.1" text-anchor="end">40</text>
<text class="b" transform="translate(175.7 230) scale(0.9 1)" font-size="6.1" text-anchor="end">60</text>
<text class="b" transform="translate(175.7 217.54) scale(0.9 1)" font-size="6.1" text-anchor="end">80</text>
<text class="b" transform="translate(175.7 205.08) scale(0.9 1)" font-size="6.1" text-anchor="end">100</text>
<text class="b" transform="translate(175.7 192.62) scale(0.9 1)" font-size="6.1" text-anchor="end">120</text>
<text class="b" transform="translate(179.4 274.28) scale(0.9 1)" font-size="6.1" text-anchor="middle">0</text>
<text class="b" transform="translate(201.8 274.28) scale(0.9 1)" font-size="6.1" text-anchor="middle">20</text>
<text class="b" transform="translate(224.2 274.28) scale(0.9 1)" font-size="6.1" text-anchor="middle">40</text>
<text class="b" transform="translate(246.6 274.28) scale(0.9 1)" font-size="6.1" text-anchor="middle">60</text>
<text class="b" transform="translate(269 274.28) scale(0.9 1)" font-size="6.1" text-anchor="middle">80</text>
<text class="b" transform="translate(291.4 274.28) scale(0.9 1)" font-size="6.1" text-anchor="middle">100</text>
<text class="b" transform="translate(235.1 284.35) scale(0.915 1)" font-size="6.6" text-anchor="middle" xml:space="preserve">Compound Concentration (<tspan class="u" fill="#1a1a1a" font-size="6.6">µM</tspan>)</text>
<text class="b" transform="translate(162.97 227.72) rotate(-90) scale(0.94 1)" font-size="6.4" text-anchor="middle">% Enzymatic Activity</text>
<path d="M179.4 202.85 L179.62 202.86 L179.85 202.87 L180.07 202.9 L180.3 202.92 L180.52 202.95 L180.74 202.98 L180.97 203.02 L181.19 203.05 L181.42 203.09 L181.64 203.13 L181.86 203.17 L182.09 203.22 L182.31 203.26 L182.54 203.31 L182.76 203.36 L182.98 203.41 L183.21 203.46 L183.43 203.51 L183.66 203.57 L183.88 203.62 L184.1 203.68 L184.33 203.74 L184.55 203.79 L184.78 203.85 L185 203.91 L185.56 204.07 L186.69 204.4 L187.81 204.75 L188.94 205.12 L190.06 205.5 L191.19 205.89 L192.32 206.3 L193.44 206.72 L194.57 207.15 L195.69 207.59 L196.82 208.03 L197.95 208.48 L199.07 208.93 L200.2 209.39 L201.32 209.85 L202.45 210.32 L203.58 210.79 L204.7 211.26 L205.83 211.73 L206.95 212.2 L208.08 212.67 L209.21 213.14 L210.33 213.62 L211.46 214.09 L212.58 214.56 L213.71 215.02 L214.83 215.49 L215.96 215.95 L217.09 216.42 L218.21 216.88 L219.34 217.33 L220.46 217.79 L221.59 218.24 L222.72 218.68 L223.84 219.13 L224.97 219.57 L226.09 220.01 L227.22 220.44 L228.35 220.87 L229.47 221.3 L230.6 221.72 L231.72 222.14 L232.85 222.55 L233.98 222.96 L235.1 223.37 L236.23 223.77 L237.35 224.17 L238.48 224.56 L239.61 224.95 L240.73 225.34 L241.86 225.72 L242.98 226.1 L244.11 226.47 L245.24 226.84 L246.36 227.2 L247.49 227.56 L248.61 227.92 L249.74 228.27 L250.87 228.62 L251.99 228.96 L253.12 229.3 L254.24 229.64 L255.37 229.97 L256.5 230.3 L257.62 230.62 L258.75 230.94 L259.87 231.25 L261 231.57 L262.13 231.88 L263.25 232.18 L264.38 232.48 L265.5 232.78 L266.63 233.07 L267.75 233.36 L268.88 233.65 L270.01 233.93 L271.13 234.21 L272.26 234.49 L273.38 234.76 L274.51 235.03 L275.64 235.29 L276.76 235.55 L277.89 235.81 L279.01 236.07 L280.14 236.32 L281.27 236.57 L282.39 236.82 L283.52 237.06 L284.64 237.3 L285.77 237.54 L286.9 237.78 L288.02 238.01 L289.15 238.24 L290.27 238.46 L291.4 238.69" stroke="#222" stroke-width="0.66" fill="none" stroke-linejoin="round"/>
<path d="M179.7 198.9V206.5M177.95 198.9H181.45M177.95 206.5H181.45M193.2 206.5V214.3M191.45 206.5H194.95M191.45 214.3H194.95M200.3 210V214.3M198.55 210H202.05M198.55 214.3H202.05M207.5 206.1V217.1M205.75 206.1H209.25M205.75 217.1H209.25M221.4 210V221.4M219.65 210H223.15M219.65 221.4H223.15M235.3 215.1V221.8M233.55 215.1H237.05M233.55 221.8H237.05M263.1 229.6V236.6M261.35 229.6H264.85M261.35 236.6H264.85M291.2 237.2V244.5M289.45 237.2H292.95M289.45 244.5H292.95" stroke="#444" stroke-width="0.5" fill="none"/>
<circle cx="179.7" cy="203" r="1.45" fill="#111"/>
<circle cx="189.7" cy="208.1" r="1.45" fill="#111"/>
<circle cx="193.2" cy="210.4" r="1.45" fill="#111"/>
<circle cx="200.3" cy="212.2" r="1.45" fill="#111"/>
<circle cx="207.5" cy="211.6" r="1.45" fill="#111"/>
<circle cx="221.4" cy="215.7" r="1.45" fill="#111"/>
<circle cx="235.3" cy="218.4" r="1.45" fill="#111"/>
<circle cx="263.1" cy="233.3" r="1.45" fill="#111"/>
<circle cx="291.2" cy="240.9" r="1.45" fill="#111"/>
<text class="s" transform="translate(222.95 306.95) scale(0.95 1)" font-size="15.5" word-spacing="0.45" text-anchor="middle">85 <tspan font-size="19.38">±</tspan> 12 µM</text>
</g>
<g>
<text class="t" transform="translate(396.65 173.1) scale(0.97 1)" font-size="15.6" text-anchor="middle">HD8</text>
<path d="M352.1 189.96V265.6M350.3 265.1H465.2" stroke="#222" stroke-width="1.0" fill="none"/>
<path d="M349.4 265.1H352.1M349.4 252.66H352.1M349.4 240.22H352.1M349.4 227.78H352.1M349.4 215.34H352.1M349.4 202.9H352.1M349.4 190.46H352.1M352.1 265.1V268.1M374.6 265.1V268.1M397.1 265.1V268.1M419.6 265.1V268.1M442.1 265.1V268.1M464.6 265.1V268.1" stroke="#222" stroke-width="1.0" fill="none"/>
<text class="b" transform="translate(348.4 267.38) scale(0.9 1)" font-size="6.1" text-anchor="end">0</text>
<text class="b" transform="translate(348.4 254.94) scale(0.9 1)" font-size="6.1" text-anchor="end">20</text>
<text class="b" transform="translate(348.4 242.5) scale(0.9 1)" font-size="6.1" text-anchor="end">40</text>
<text class="b" transform="translate(348.4 230.06) scale(0.9 1)" font-size="6.1" text-anchor="end">60</text>
<text class="b" transform="translate(348.4 217.62) scale(0.9 1)" font-size="6.1" text-anchor="end">80</text>
<text class="b" transform="translate(348.4 205.18) scale(0.9 1)" font-size="6.1" text-anchor="end">100</text>
<text class="b" transform="translate(348.4 192.74) scale(0.9 1)" font-size="6.1" text-anchor="end">120</text>
<text class="b" transform="translate(352.1 274.68) scale(0.9 1)" font-size="6.1" text-anchor="middle">0</text>
<text class="b" transform="translate(374.6 274.68) scale(0.9 1)" font-size="6.1" text-anchor="middle">20</text>
<text class="b" transform="translate(397.1 274.68) scale(0.9 1)" font-size="6.1" text-anchor="middle">40</text>
<text class="b" transform="translate(419.6 274.68) scale(0.9 1)" font-size="6.1" text-anchor="middle">60</text>
<text class="b" transform="translate(442.1 274.68) scale(0.9 1)" font-size="6.1" text-anchor="middle">80</text>
<text class="b" transform="translate(464.6 274.68) scale(0.9 1)" font-size="6.1" text-anchor="middle">100</text>
<text class="b" transform="translate(408.1 284.35) scale(0.915 1)" font-size="6.6" text-anchor="middle" xml:space="preserve">Compound Concentration (<tspan class="u" fill="#1a1a1a" font-size="6.6">µM</tspan>)</text>
<text class="b" transform="translate(335.27 227.78) rotate(-90) scale(0.94 1)" font-size="6.4" text-anchor="middle">% Enzymatic Activity</text>
<path d="M352.1 202.85 L352.33 202.98 L352.55 203.09 L352.78 203.21 L353 203.32 L353.23 203.43 L353.45 203.55 L353.68 203.65 L353.9 203.76 L354.12 203.87 L354.35 203.98 L354.58 204.08 L354.8 204.19 L355.03 204.29 L355.25 204.4 L355.48 204.5 L355.7 204.6 L355.93 204.7 L356.15 204.8 L356.38 204.9 L356.6 205 L356.83 205.1 L357.05 205.2 L357.28 205.3 L357.5 205.4 L357.73 205.5 L358.29 205.74 L359.42 206.22 L360.55 206.68 L361.68 207.14 L362.81 207.59 L363.94 208.03 L365.07 208.46 L366.2 208.88 L367.34 209.3 L368.47 209.71 L369.6 210.11 L370.73 210.5 L371.86 210.89 L372.99 211.27 L374.12 211.65 L375.25 212.02 L376.38 212.38 L377.51 212.74 L378.65 213.1 L379.78 213.44 L380.91 213.79 L382.04 214.12 L383.17 214.46 L384.3 214.78 L385.43 215.11 L386.56 215.43 L387.69 215.74 L388.82 216.05 L389.96 216.35 L391.09 216.66 L392.22 216.95 L393.35 217.25 L394.48 217.54 L395.61 217.82 L396.74 218.1 L397.87 218.38 L399 218.66 L400.13 218.93 L401.26 219.2 L402.4 219.46 L403.53 219.72 L404.66 219.98 L405.79 220.24 L406.92 220.49 L408.05 220.74 L409.18 220.98 L410.31 221.23 L411.44 221.47 L412.57 221.7 L413.71 221.94 L414.84 222.17 L415.97 222.4 L417.1 222.63 L418.23 222.85 L419.36 223.07 L420.49 223.29 L421.62 223.51 L422.75 223.72 L423.88 223.94 L425.02 224.15 L426.15 224.35 L427.28 224.56 L428.41 224.76 L429.54 224.96 L430.67 225.16 L431.8 225.36 L432.93 225.55 L434.06 225.75 L435.19 225.94 L436.33 226.13 L437.46 226.31 L438.59 226.5 L439.72 226.68 L440.85 226.86 L441.98 227.04 L443.11 227.22 L444.24 227.4 L445.37 227.57 L446.5 227.74 L447.64 227.91 L448.77 228.08 L449.9 228.25 L451.03 228.42 L452.16 228.58 L453.29 228.75 L454.42 228.91 L455.55 229.07 L456.68 229.23 L457.81 229.38 L458.95 229.54 L460.08 229.69 L461.21 229.85 L462.34 230 L463.47 230.15 L464.6 230.3" stroke="#383838" stroke-width="0.55" fill="none" stroke-linejoin="round"/>
<path d="M352 193.6V200.3M350.25 193.6H353.75M350.25 200.3H353.75M362.7 199.3V206.5M360.95 199.3H364.45M360.95 206.5H364.45M373.3 212.8V216.1M371.55 212.8H375.05M371.55 216.1H375.05M380.3 208.5V219.4M378.55 208.5H382.05M378.55 219.4H382.05M394.4 213V225.3M392.65 213H396.15M392.65 225.3H396.15M408.5 213.6V227.4M406.75 213.6H410.25M406.75 227.4H410.25M436.5 221V230.4M434.75 221H438.25M434.75 230.4H438.25M464.8 222.4V235.3M463.05 222.4H466.55M463.05 235.3H466.55" stroke="#505050" stroke-width="0.5" fill="none"/>
<circle cx="352" cy="196.9" r="1.45" fill="#111"/>
<circle cx="362.7" cy="203" r="1.45" fill="#111"/>
<circle cx="366.2" cy="208.3" r="1.45" fill="#111"/>
<circle cx="373.3" cy="214.5" r="1.45" fill="#111"/>
<circle cx="380.3" cy="214.3" r="1.45" fill="#111"/>
<circle cx="394.4" cy="219" r="1.45" fill="#111"/>
<circle cx="408.5" cy="220.4" r="1.45" fill="#111"/>
<circle cx="436.5" cy="225.3" r="1.45" fill="#111"/>
<circle cx="464.8" cy="228.8" r="1.45" fill="#111"/>
<text class="s" transform="translate(397.75 306.95) scale(0.95 1)" font-size="15.5" word-spacing="0.45" text-anchor="middle">160 <tspan font-size="19.38">±</tspan> 60 µM</text>
</g>
<g>
<text class="t" transform="translate(567.15 173.9) scale(0.97 1)" font-size="15.6" text-anchor="middle">HD9</text>
<path d="M515.5 187.16V262.8M513.7 262.3H628.3" stroke="#222" stroke-width="1.0" fill="none"/>
<path d="M512.8 262.3H515.5M512.8 249.86H515.5M512.8 237.42H515.5M512.8 224.98H515.5M512.8 212.54H515.5M512.8 200.1H515.5M512.8 187.66H515.5M515.5 262.3V265.3M537.98 262.3V265.3M560.46 262.3V265.3M582.94 262.3V265.3M605.42 262.3V265.3M627.9 262.3V265.3" stroke="#222" stroke-width="1.0" fill="none"/>
<text class="b" transform="translate(511.8 264.58) scale(0.9 1)" font-size="6.1" text-anchor="end">0</text>
<text class="b" transform="translate(511.8 252.14) scale(0.9 1)" font-size="6.1" text-anchor="end">20</text>
<text class="b" transform="translate(511.8 239.7) scale(0.9 1)" font-size="6.1" text-anchor="end">40</text>
<text class="b" transform="translate(511.8 227.26) scale(0.9 1)" font-size="6.1" text-anchor="end">60</text>
<text class="b" transform="translate(511.8 214.82) scale(0.9 1)" font-size="6.1" text-anchor="end">80</text>
<text class="b" transform="translate(511.8 202.38) scale(0.9 1)" font-size="6.1" text-anchor="end">100</text>
<text class="b" transform="translate(511.8 189.94) scale(0.9 1)" font-size="6.1" text-anchor="end">120</text>
<text class="b" transform="translate(515.5 271.88) scale(0.9 1)" font-size="6.1" text-anchor="middle">0</text>
<text class="b" transform="translate(537.98 271.88) scale(0.9 1)" font-size="6.1" text-anchor="middle">20</text>
<text class="b" transform="translate(560.46 271.88) scale(0.9 1)" font-size="6.1" text-anchor="middle">40</text>
<text class="b" transform="translate(582.94 271.88) scale(0.9 1)" font-size="6.1" text-anchor="middle">60</text>
<text class="b" transform="translate(605.42 271.88) scale(0.9 1)" font-size="6.1" text-anchor="middle">80</text>
<text class="b" transform="translate(627.9 271.88) scale(0.9 1)" font-size="6.1" text-anchor="middle">100</text>
<text class="b" transform="translate(571.8 281.75) scale(0.915 1)" font-size="6.6" text-anchor="middle" xml:space="preserve">Compound Concentration (<tspan class="u" fill="#1a1a1a" font-size="6.6">µM</tspan>)</text>
<text class="b" transform="translate(498.88 224.98) rotate(-90) scale(0.94 1)" font-size="6.4" text-anchor="middle">% Enzymatic Activity</text>
<path d="M515.5 200.16 L515.72 200.36 L515.95 200.59 L516.17 200.83 L516.4 201.07 L516.62 201.33 L516.85 201.58 L517.07 201.84 L517.3 202.1 L517.52 202.36 L517.75 202.62 L517.97 202.88 L518.2 203.15 L518.42 203.41 L518.65 203.67 L518.87 203.93 L519.1 204.2 L519.32 204.46 L519.55 204.72 L519.77 204.98 L520 205.24 L520.22 205.5 L520.45 205.75 L520.67 206.01 L520.9 206.27 L521.12 206.52 L521.68 207.15 L522.81 208.39 L523.94 209.6 L525.07 210.77 L526.2 211.91 L527.33 213.01 L528.46 214.07 L529.59 215.1 L530.72 216.09 L531.85 217.05 L532.98 217.98 L534.11 218.88 L535.24 219.74 L536.37 220.58 L537.5 221.39 L538.63 222.18 L539.76 222.93 L540.89 223.67 L542.02 224.38 L543.15 225.07 L544.28 225.73 L545.41 226.38 L546.54 227.01 L547.67 227.61 L548.8 228.2 L549.93 228.77 L551.06 229.33 L552.19 229.87 L553.32 230.39 L554.45 230.9 L555.58 231.39 L556.71 231.87 L557.84 232.33 L558.97 232.79 L560.1 233.23 L561.23 233.66 L562.36 234.08 L563.49 234.48 L564.62 234.88 L565.75 235.27 L566.88 235.64 L568.01 236.01 L569.14 236.37 L570.27 236.72 L571.4 237.06 L572.53 237.39 L573.66 237.72 L574.79 238.03 L575.92 238.34 L577.05 238.64 L578.18 238.94 L579.31 239.23 L580.44 239.51 L581.57 239.79 L582.7 240.06 L583.83 240.32 L584.96 240.58 L586.09 240.83 L587.22 241.08 L588.35 241.32 L589.48 241.56 L590.61 241.79 L591.74 242.02 L592.87 242.24 L594 242.46 L595.13 242.67 L596.26 242.88 L597.39 243.08 L598.52 243.29 L599.65 243.48 L600.78 243.68 L601.91 243.87 L603.04 244.05 L604.17 244.24 L605.3 244.42 L606.43 244.59 L607.56 244.77 L608.69 244.94 L609.82 245.1 L610.95 245.27 L612.08 245.43 L613.21 245.59 L614.34 245.74 L615.47 245.9 L616.6 246.05 L617.73 246.19 L618.86 246.34 L619.99 246.48 L621.12 246.62 L622.25 246.76 L623.38 246.9 L624.51 247.03 L625.64 247.16 L626.77 247.29 L627.9 247.42" stroke="#222" stroke-width="0.66" fill="none" stroke-linejoin="round"/>
<path d="M526.2 210V216.2M524.45 210H527.95M524.45 216.2H527.95M529.5 214.3V220.9M527.75 214.3H531.25M527.75 220.9H531.25M536.7 214.3V224.6M534.95 214.3H538.45M534.95 224.6H538.45M543.6 221.5V224.8M541.85 221.5H545.35M541.85 224.8H545.35M557.7 226V234.6M555.95 226H559.45M555.95 234.6H559.45M571.9 231.3V238.1M570.15 231.3H573.65M570.15 238.1H573.65M599.9 244.6V249.9M598.15 244.6H601.65M598.15 249.9H601.65" stroke="#444" stroke-width="0.5" fill="none"/>
<circle cx="515.6" cy="200.2" r="1.45" fill="#111"/>
<circle cx="526.2" cy="213.1" r="1.45" fill="#111"/>
<circle cx="529.5" cy="217.4" r="1.45" fill="#111"/>
<circle cx="536.7" cy="219.4" r="1.45" fill="#111"/>
<circle cx="543.6" cy="223.1" r="1.45" fill="#111"/>
<circle cx="557.7" cy="230.5" r="1.45" fill="#111"/>
<circle cx="571.9" cy="234.8" r="1.45" fill="#111"/>
<circle cx="599.9" cy="247.2" r="1.45" fill="#111"/>
<circle cx="627.9" cy="248" r="1.45" fill="#111"/>
<text class="s" transform="translate(560.7 308.05) scale(0.95 1)" font-size="15.5" word-spacing="0.45" text-anchor="middle">36 <tspan font-size="19.38">±</tspan> 4 µM</text>
</g>
<g>
<text class="t" transform="translate(739.8 173.9) scale(0.97 1)" font-size="15.6" text-anchor="middle">HD10</text>
<path d="M675.5 186.96V262.6M673.7 262.1H787.9" stroke="#222" stroke-width="1.0" fill="none"/>
<path d="M672.8 262.1H675.5M672.8 249.66H675.5M672.8 237.22H675.5M672.8 224.78H675.5M672.8 212.34H675.5M672.8 199.9H675.5M672.8 187.46H675.5M675.5 262.1V265.1M697.86 262.1V265.1M720.22 262.1V265.1M742.58 262.1V265.1M764.94 262.1V265.1M787.3 262.1V265.1" stroke="#222" stroke-width="1.0" fill="none"/>
<text class="b" transform="translate(671.8 264.38) scale(0.9 1)" font-size="6.1" text-anchor="end">0</text>
<text class="b" transform="translate(671.8 251.94) scale(0.9 1)" font-size="6.1" text-anchor="end">20</text>
<text class="b" transform="translate(671.8 239.5) scale(0.9 1)" font-size="6.1" text-anchor="end">40</text>
<text class="b" transform="translate(671.8 227.06) scale(0.9 1)" font-size="6.1" text-anchor="end">60</text>
<text class="b" transform="translate(671.8 214.62) scale(0.9 1)" font-size="6.1" text-anchor="end">80</text>
<text class="b" transform="translate(671.8 202.18) scale(0.9 1)" font-size="6.1" text-anchor="end">100</text>
<text class="b" transform="translate(671.8 189.74) scale(0.9 1)" font-size="6.1" text-anchor="end">120</text>
<text class="b" transform="translate(675.5 271.48) scale(0.9 1)" font-size="6.1" text-anchor="middle">0</text>
<text class="b" transform="translate(697.86 271.48) scale(0.9 1)" font-size="6.1" text-anchor="middle">20</text>
<text class="b" transform="translate(720.22 271.48) scale(0.9 1)" font-size="6.1" text-anchor="middle">40</text>
<text class="b" transform="translate(742.58 271.48) scale(0.9 1)" font-size="6.1" text-anchor="middle">60</text>
<text class="b" transform="translate(764.94 271.48) scale(0.9 1)" font-size="6.1" text-anchor="middle">80</text>
<text class="b" transform="translate(787.3 271.48) scale(0.9 1)" font-size="6.1" text-anchor="middle">100</text>
<text class="b" transform="translate(731.4 281.55) scale(0.915 1)" font-size="6.6" text-anchor="middle" xml:space="preserve">Compound Concentration (<tspan class="u" fill="#1a1a1a" font-size="6.6">µM</tspan>)</text>
<text class="b" transform="translate(658.67 224.78) rotate(-90) scale(0.94 1)" font-size="6.4" text-anchor="middle">% Enzymatic Activity</text>
<path d="M675.5 199.96 L675.72 200.12 L675.95 200.31 L676.17 200.52 L676.39 200.74 L676.62 200.97 L676.84 201.21 L677.07 201.45 L677.29 201.7 L677.51 201.95 L677.74 202.2 L677.96 202.45 L678.18 202.71 L678.41 202.97 L678.63 203.23 L678.85 203.49 L679.08 203.75 L679.3 204.01 L679.52 204.28 L679.75 204.54 L679.97 204.8 L680.2 205.06 L680.42 205.33 L680.64 205.59 L680.87 205.85 L681.09 206.11 L681.65 206.76 L682.77 208.06 L683.9 209.32 L685.02 210.56 L686.14 211.77 L687.27 212.94 L688.39 214.08 L689.52 215.18 L690.64 216.25 L691.76 217.29 L692.89 218.29 L694.01 219.25 L695.14 220.19 L696.26 221.09 L697.38 221.97 L698.51 222.81 L699.63 223.63 L700.76 224.42 L701.88 225.19 L703 225.93 L704.13 226.64 L705.25 227.34 L706.38 228.01 L707.5 228.66 L708.62 229.29 L709.75 229.89 L710.87 230.49 L712 231.06 L713.12 231.61 L714.24 232.15 L715.37 232.67 L716.49 233.18 L717.62 233.67 L718.74 234.15 L719.86 234.61 L720.99 235.07 L722.11 235.5 L723.24 235.93 L724.36 236.34 L725.48 236.75 L726.61 237.14 L727.73 237.52 L728.85 237.89 L729.98 238.26 L731.1 238.61 L732.23 238.95 L733.35 239.29 L734.47 239.61 L735.6 239.93 L736.72 240.24 L737.85 240.54 L738.97 240.84 L740.09 241.13 L741.22 241.41 L742.34 241.68 L743.47 241.95 L744.59 242.21 L745.71 242.47 L746.84 242.72 L747.96 242.97 L749.09 243.21 L750.21 243.44 L751.33 243.67 L752.46 243.89 L753.58 244.11 L754.71 244.33 L755.83 244.54 L756.95 244.74 L758.08 244.94 L759.2 245.14 L760.33 245.33 L761.45 245.52 L762.57 245.71 L763.7 245.89 L764.82 246.07 L765.95 246.24 L767.07 246.41 L768.19 246.58 L769.32 246.75 L770.44 246.91 L771.56 247.07 L772.69 247.22 L773.81 247.37 L774.94 247.52 L776.06 247.67 L777.18 247.82 L778.31 247.96 L779.43 248.1 L780.56 248.24 L781.68 248.37 L782.8 248.5 L783.93 248.63 L785.05 248.76 L786.18 248.89 L787.3 249.01" stroke="#222" stroke-width="0.66" fill="none" stroke-linejoin="round"/>
<path d="M675.4 194.7V205.1M673.65 194.7H677.15M673.65 205.1H677.15M686 209.6V216.4M684.25 209.6H687.75M684.25 216.4H687.75M689.5 211.3V217.2M687.75 211.3H691.25M687.75 217.2H691.25M696.6 219.4V225.6M694.85 219.4H698.35M694.85 225.6H698.35M703.6 225.6V233.4M701.85 225.6H705.35M701.85 233.4H705.35M717.5 225.4V232.3M715.75 225.4H719.25M715.75 232.3H719.25M731.6 236.4V240.1M729.85 236.4H733.35M729.85 240.1H733.35M759.4 240.1V249.7M757.65 240.1H761.15M757.65 249.7H761.15M787.5 250.3V257.9M785.75 250.3H789.25M785.75 257.9H789.25" stroke="#444" stroke-width="0.5" fill="none"/>
<circle cx="675.4" cy="200" r="1.45" fill="#111"/>
<circle cx="686" cy="212.9" r="1.45" fill="#111"/>
<circle cx="689.5" cy="214.1" r="1.45" fill="#111"/>
<circle cx="696.6" cy="222.5" r="1.45" fill="#111"/>
<circle cx="703.6" cy="229.5" r="1.45" fill="#111"/>
<circle cx="717.5" cy="228.9" r="1.45" fill="#111"/>
<circle cx="731.6" cy="238.3" r="1.45" fill="#111"/>
<circle cx="759.4" cy="245" r="1.45" fill="#111"/>
<circle cx="787.5" cy="254.2" r="1.45" fill="#111"/>
<text class="s" transform="translate(724.3 308.05) scale(0.95 1)" font-size="15.5" word-spacing="0.45" text-anchor="middle">32 <tspan font-size="19.38">±</tspan> 4 µM</text>
</g>
</g>
</svg>
</body></html>
